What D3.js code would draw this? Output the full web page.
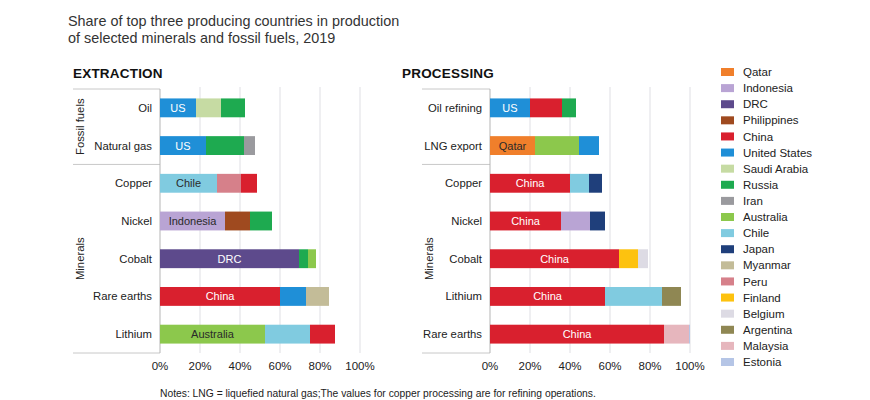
<!DOCTYPE html>
<html>
<head>
<meta charset="utf-8">
<script src="https://cdn.jsdelivr.net/npm/d3@7"></script>
<style>
  html, body { margin: 0; padding: 0; background: #fff; }
  svg { display: block; font-family: "Liberation Sans", Arial, sans-serif; }
</style>
</head>
<body>
<svg id="chart" width="870" height="400"></svg>
<script>
// ---------- DATA ----------
const countries = ["Qatar","Indonesia","DRC","Philippines","China","United States","Saudi Arabia","Russia","Iran","Australia","Chile","Japan","Myanmar","Peru","Finland","Belgium","Argentina","Malaysia","Estonia"];
const countryColors = ["#f07f2b","#b9a4d4","#5d4a8c","#9f4a1f","#d9202e","#1f8fd7","#c6dba3","#1eaa50","#9a9a9e","#8cc84c","#80cbe0","#1f3f7b","#c3bc98","#d6808a","#fdc20f","#dddbe4","#8f8753","#e6b6bd","#b5c5e6"];

const extractionCategories = ["Oil","Natural gas","Copper","Nickel","Cobalt","Rare earths","Lithium"];
const extractionTop3 = [
  ["United States","Saudi Arabia","Russia"],
  ["United States","Russia","Iran"],
  ["Chile","Peru","China"],
  ["Indonesia","Philippines","Russia"],
  ["DRC","Russia","Australia"],
  ["China","United States","Myanmar"],
  ["Australia","Chile","China"]
];
const extractionShares = [
  [18, 12.5, 12],
  [23, 19, 5.5],
  [28.5, 12, 8],
  [32.5, 12.5, 11],
  [69.5, 4.5, 4],
  [60, 13, 11.5],
  [52.5, 22.5, 12.5]
];
const extractionLabels = ["US","US","Chile","Indonesia","DRC","China","Australia"];

const processingCategories = ["Oil refining","LNG export","Copper","Nickel","Cobalt","Lithium","Rare earths"];
const processingTop3 = [
  ["United States","China","Russia"],
  ["Qatar","Australia","United States"],
  ["China","Chile","Japan"],
  ["China","Indonesia","Japan"],
  ["China","Finland","Belgium"],
  ["China","Chile","Argentina"],
  ["China","Malaysia","Estonia"]
];
const processingShares = [
  [20, 16, 7],
  [22.5, 22, 10],
  [40, 9.5, 6.5],
  [35.5, 14.5, 7.5],
  [64.5, 9.5, 5],
  [57.5, 28.5, 9.5],
  [87, 12.5, 0.5]
];
const processingLabels = ["US","Qatar","China","China","China","China","China"];

const tickValues = [0, 20, 40, 60, 80, 100];

// ---------- CHART ----------
const svg = d3.select("#chart");
const color = d3.scaleOrdinal().domain(countries).range(countryColors);

// subtitle
svg.append("text").attr("x", 68).attr("y", 26)
  .attr("font-size", 14.4).attr("fill", "#333")
  .text("Share of top three producing countries in production");
svg.append("text").attr("x", 68).attr("y", 43)
  .attr("font-size", 14.4).attr("fill", "#333")
  .text("of selected minerals and fossil fuels, 2019");

const plotTop = 89, plotBottom = 353;

function panel(opts) {
  const { title, titleX, x0, x1, lineStart, groupX, cats, top3, shares, labels, groups } = opts;
  const g = svg.append("g");
  const x = d3.scaleLinear().domain([0, 100]).range([x0, x1]);
  const y = d3.scaleBand().domain(cats).range([plotTop, plotBottom]).paddingInner(0.5).paddingOuter(0.25);

  g.append("text").attr("x", titleX).attr("y", 78)
    .attr("font-size", 13.5).attr("font-weight", "bold").attr("fill", "#111")
    .style("letter-spacing", "0.2px")
    .text(title);

  // gridlines
  g.append("g").selectAll("line").data(tickValues.slice(1)).join("line")
    .attr("x1", d => x(d)).attr("x2", d => x(d))
    .attr("y1", plotTop - 2).attr("y2", plotBottom)
    .attr("stroke", "#dfdfe4").attr("stroke-width", 1);

  // table lines
  const sepY = y(cats[2]) - y.step() * y.paddingInner() / 2;
  [plotTop, sepY, plotBottom].forEach(yy => {
    g.append("line").attr("x1", lineStart).attr("x2", x0).attr("y1", yy).attr("y2", yy)
      .attr("stroke", "#c8c8c8").attr("stroke-width", 1);
  });
  g.append("line").attr("x1", x0).attr("x2", x0).attr("y1", plotTop).attr("y2", plotBottom)
    .attr("stroke", "#b5b5b5").attr("stroke-width", 1);

  // group labels
  groups.forEach(gr => {
    const cy = gr.from === 0 ? (plotTop + sepY) / 2 : (sepY + plotBottom) / 2;
    g.append("text").attr("transform", `translate(${groupX},${cy}) rotate(-90)`)
      .attr("text-anchor", "middle").attr("dy", "0.35em")
      .attr("font-size", 11.3).attr("fill", "#222").text(gr.name);
  });

  // category labels
  g.append("g").selectAll("text").data(cats).join("text")
    .attr("x", x0 - 8).attr("y", d => y(d) + y.bandwidth() / 2).attr("dy", "0.35em")
    .attr("text-anchor", "end").attr("font-size", 11.3).attr("fill", "#222")
    .text(d => d);

  // bars
  cats.forEach((c, i) => {
    let acc = 0;
    shares[i].forEach((v, j) => {
      g.append("rect")
        .attr("x", x(acc)).attr("y", y(c))
        .attr("width", x(acc + v) - x(acc)).attr("height", y.bandwidth())
        .attr("fill", color(top3[i][j]));
      acc += v;
    });
    const first = shares[i][0];
    const col = color(top3[i][0]);
    g.append("text")
      .attr("x", (x(0) + x(first)) / 2).attr("y", y(c) + y.bandwidth() / 2).attr("dy", "0.36em")
      .attr("text-anchor", "middle").attr("font-size", 11)
      .attr("fill", d3.lab(col).l > 60 ? "#2a2a2a" : "#ffffff")
      .text(labels[i]);
  });

  // x axis tick labels
  g.append("g").selectAll("text").data(tickValues).join("text")
    .attr("x", d => x(d)).attr("y", 370)
    .attr("text-anchor", "middle").attr("font-size", 11.5).attr("fill", "#222")
    .text(d => d + "%");
}

panel({
  title: "EXTRACTION", titleX: 73, x0: 160, x1: 360, lineStart: 73, groupX: 80,
  cats: extractionCategories, top3: extractionTop3, shares: extractionShares, labels: extractionLabels,
  groups: [{ name: "Fossil fuels", from: 0 }, { name: "Minerals", from: 2 }]
});
panel({
  title: "PROCESSING", titleX: 402, x0: 490, x1: 690, lineStart: 422, groupX: 429,
  cats: processingCategories, top3: processingTop3, shares: processingShares, labels: processingLabels,
  groups: [{ name: "Minerals", from: 2 }]
});

// legend
const legend = svg.append("g");
const ly = d3.scalePoint().domain(countries).range([72, 362]);
legend.selectAll("rect").data(countries).join("rect")
  .attr("x", 721).attr("y", d => ly(d) - 4).attr("width", 13).attr("height", 8)
  .attr("fill", d => color(d));
legend.selectAll("text").data(countries).join("text")
  .attr("x", 743).attr("y", d => ly(d)).attr("dy", "0.36em")
  .attr("font-size", 11.5).attr("fill", "#222").text(d => d);

// notes
svg.append("text").attr("x", 160).attr("y", 396.5)
  .attr("font-size", 10.3).attr("fill", "#222")
  .text("Notes: LNG = liquefied natural gas;The values for copper processing are for refining operations.");
</script>
</body>
</html>
